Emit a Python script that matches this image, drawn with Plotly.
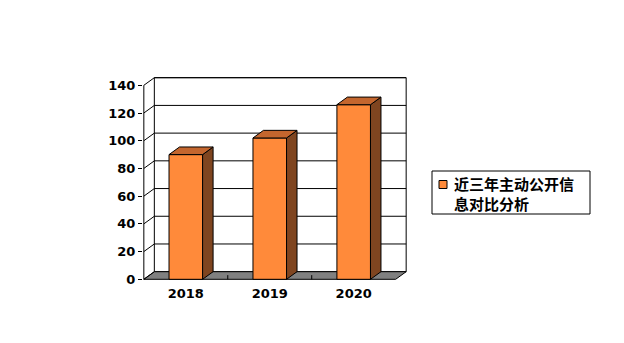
import plotly.graph_objects as go

# ---- data ----
categories = ["2018", "2019", "2020"]
values = [90, 102, 126]
series_name = "近三年主动公开信息对比分析"
y_ticks = [0, 20, 40, 60, 80, 100, 120, 140]

# ---- style / pseudo-3D geometry (in axis units) ----
DX, DY = 0.125, 5.5        # depth offset
BW = 0.4                   # bar width
FRONT = "#FF8A3A"
TOP = "#C4662E"
SIDE = "#7F4520"
FLOOR = "#808080"
YMAX = y_ticks[-1]

pos = list(range(len(categories)))

fig = go.Figure()

# front faces
fig.add_trace(go.Bar(
    x=pos, y=values, width=BW, name=series_name,
    marker=dict(color=FRONT, line=dict(color="black", width=1)),
    hoverinfo="skip", showlegend=False,
))

# side faces and top faces
sx, sy, tx, ty = [], [], [], []
for p, v in zip(pos, values):
    r = p + BW / 2
    l = p - BW / 2
    sx += [r, r + DX, r + DX, r, r, None]
    sy += [0, DY, v + DY, v, 0, None]
    tx += [l, l + DX, r + DX, r, l, None]
    ty += [v, v + DY, v + DY, v, v, None]
fig.add_trace(go.Scatter(x=sx, y=sy, mode="lines", fill="toself", fillcolor=SIDE,
                         line=dict(color="black", width=1), hoverinfo="skip", showlegend=False))
fig.add_trace(go.Scatter(x=tx, y=ty, mode="lines", fill="toself", fillcolor=TOP,
                         line=dict(color="black", width=1), hoverinfo="skip", showlegend=False))

shapes = []
x0, x1 = -0.5, len(categories) - 0.5
# back wall
shapes.append(dict(type="rect", xref="x", yref="y", x0=x0 + DX, x1=x1 + DX, y0=DY, y1=YMAX + DY,
                   fillcolor="white", line=dict(color="black", width=1), layer="below"))
# floor
shapes.append(dict(type="path", xref="x", yref="y",
                   path=f"M {x0},0 L {x1},0 L {x1 + DX},{DY} L {x0 + DX},{DY} Z",
                   fillcolor=FLOOR, line=dict(color="black", width=1), layer="below"))
# gridlines on back wall + left wall
for t in y_ticks:
    if t > 0:
        shapes.append(dict(type="line", xref="x", yref="y", x0=x0 + DX, x1=x1 + DX, y0=t + DY, y1=t + DY,
                           line=dict(color="black", width=1), layer="below"))
    shapes.append(dict(type="line", xref="x", yref="y", x0=x0, x1=x0 + DX, y0=t, y1=t + DY,
                       line=dict(color="black", width=1), layer="below"))
# front-left edge
shapes.append(dict(type="line", xref="x", yref="y", x0=x0, x1=x0, y0=0, y1=YMAX,
                   line=dict(color="black", width=1), layer="below"))
# category boundary ticks on floor edge
for b in range(1, len(categories)):
    shapes.append(dict(type="line", xref="x", yref="y", x0=b - 0.5, x1=b - 0.5, y0=0, y1=3,
                       line=dict(color="black", width=1), layer="below"))

# ---- manual legend ----
L, W = 143, 264
T, H = 77, 203
def px(xp):
    return (xp - L) / W
def py(yp):
    return (T + H - yp) / H

shapes.append(dict(type="rect", xref="paper", yref="paper", x0=px(432), x1=px(590), y0=py(214), y1=py(171),
                   fillcolor="white", line=dict(color="black", width=1)))
shapes.append(dict(type="rect", xref="paper", yref="paper", x0=px(439), x1=px(447), y0=py(188.5), y1=py(180.5),
                   fillcolor=FRONT, line=dict(color="black", width=1)))

legend_text = series_name[:8] + "<br>" + series_name[8:]

fig.update_layout(
    width=624, height=343,
    margin=dict(l=L, r=624 - L - W, t=T, b=343 - T - H),
    paper_bgcolor="white", plot_bgcolor="rgba(0,0,0,0)",
    showlegend=False,
    shapes=shapes,
    annotations=[dict(xref="paper", yref="paper", x=px(452), y=py(193.5), xanchor="left", yanchor="middle",
                      align="left", showarrow=False, text=legend_text,
                      font=dict(family="Noto Sans CJK SC", size=15, color="black", weight="bold"))],
    xaxis=dict(range=[-0.51, 2.635], tickvals=pos, ticktext=categories, showgrid=False, zeroline=False,
               showline=False, ticks="", ticklabelstandoff=4,
               tickfont=dict(family="DejaVu Sans", size=13, color="black", weight="bold"), fixedrange=True),
    yaxis=dict(range=[-0.5, 146], tickvals=y_ticks, showgrid=False, zeroline=False, showline=False,
               ticks="outside", ticklen=4, tickcolor="black", tickwidth=1,
               tickfont=dict(family="DejaVu Sans", size=13, color="black", weight="bold"), fixedrange=True),
)

fig.write_html("out.html")
